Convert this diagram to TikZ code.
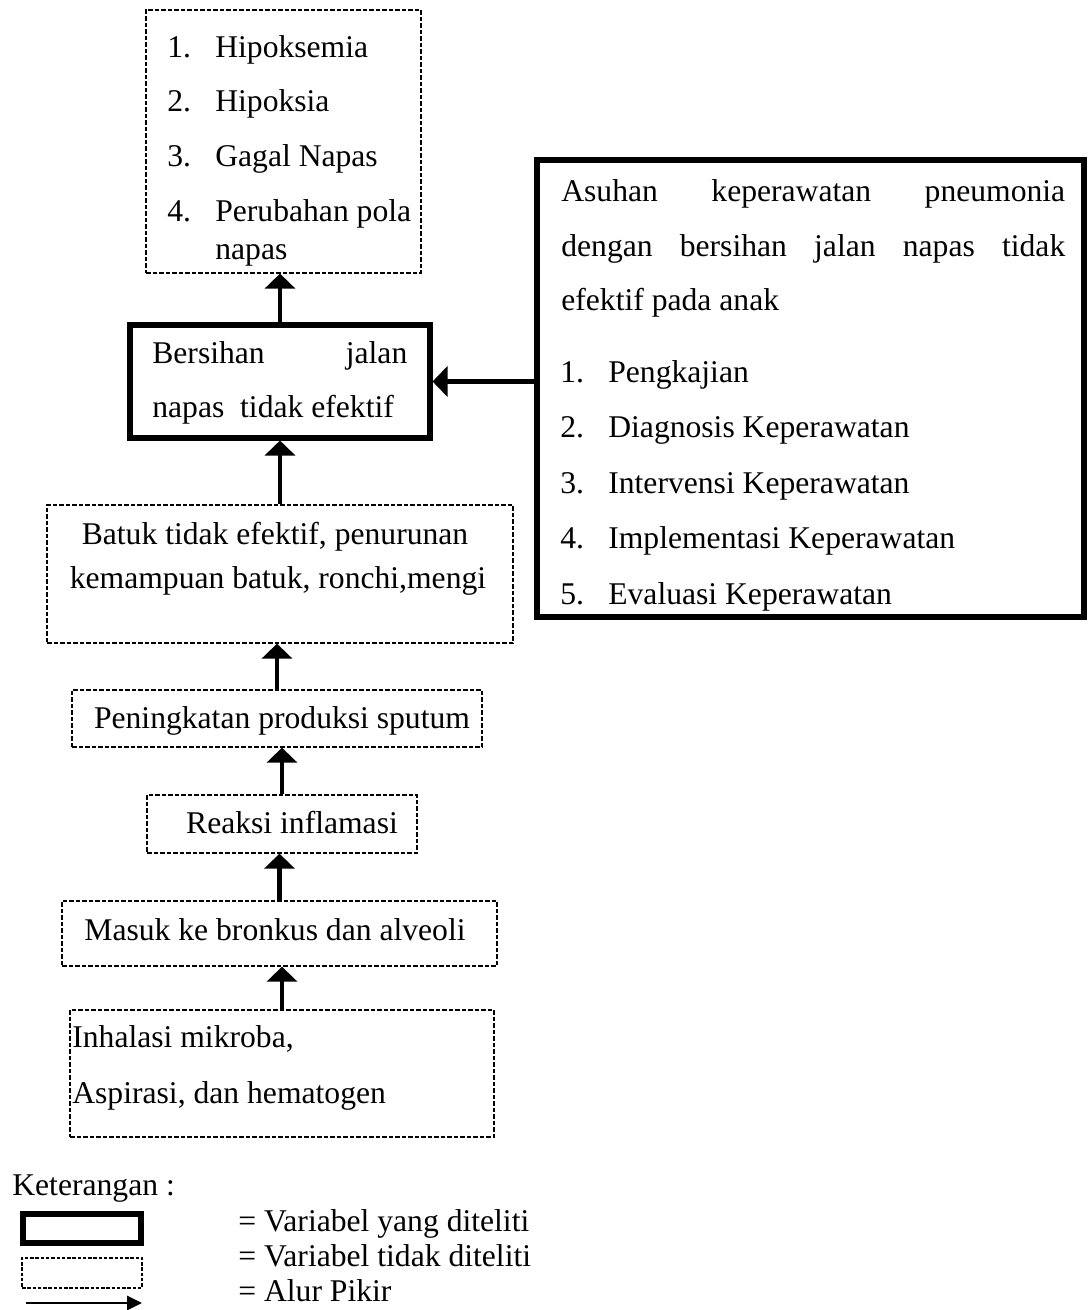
\documentclass[tikz,border=0pt]{standalone}
\usepackage{fontspec}
\setmainfont{Liberation Serif}
\usetikzlibrary{arrows.meta}
\tikzset{
  dbox/.style={draw,line width=.75pt,dash pattern=on 2.6pt off 1.1pt,inner sep=0pt},
  tbox/.style={draw,line width=2.9pt,inner sep=0pt},
  txt/.style={inner sep=0pt,anchor=base west},
  ctxt/.style={inner sep=0pt,anchor=base},
  flow/.style={line width=2.8pt,-{Triangle[width=.6cm,length=.3cm]}},
}
\begin{document}
\begin{tikzpicture}[x=.02cm,y=-.02cm,font=\fontsize{18}{22}\selectfont]
  \useasboundingbox (0,0) rectangle (1089,1310);
  \node[dbox,minimum width=5.5cm,minimum height=5.26cm] (hasil) at (283.5,141.5) {};
  \node[tbox,minimum width=6cm,minimum height=2.26cm] (bersihan) at (280,381.5) {};
  \node[tbox,line width=3.4pt,minimum width=10.94cm,minimum height=9.14cm] (asuhan) at (810.5,388.5) {};
  \node[dbox,minimum width=9.32cm,minimum height=2.76cm] (batuk) at (280,574) {};
  \node[dbox,minimum width=8.2cm,minimum height=1.14cm] (sputum) at (277,718.5) {};
  \node[dbox,minimum width=5.4cm,minimum height=1.16cm] (reaksi) at (282,824) {};
  \node[dbox,minimum width=8.7cm,minimum height=1.3cm] (masuk) at (279.5,933.5) {};
  \node[dbox,minimum width=8.48cm,minimum height=2.54cm] (inhalasi) at (282,1073.5) {};

  \foreach \n/\t/\y in {1/Hipoksemia/58, 2/Hipoksia/112, 3/Gagal Napas/167, 4/Perubahan pola/222}{
    \node[txt] (hasil\n) at (167,\y) {\makebox[.96cm][l]{\n.}\t};
  }
  \node[txt] (hasil5) at (215,260) {napas};

  \node[txt] (bersihan1) at (152,364) {\makebox[5.1cm]{Bersihan\hfill jalan}};
  \node[txt] (bersihan2) at (152,418) {napas\ \ tidak efektif};

  \node[txt] (asuhan1) at (561,202) {\makebox[10.08cm]{Asuhan\hfill keperawatan\hfill pneumonia}};
  \node[txt] (asuhan2) at (561,257) {\makebox[10.08cm]{dengan\hfill bersihan\hfill jalan\hfill napas\hfill tidak}};
  \node[txt] (asuhan3) at (561,311) {efektif pada anak};
  \foreach \n/\t/\y in {1/Pengkajian/383, 2/Diagnosis Keperawatan/438, 3/Intervensi Keperawatan/493,
                        4/Implementasi Keperawatan/548, 5/Evaluasi Keperawatan/604}{
    \node[txt] (proses\n) at (560,\y) {\makebox[.96cm][l]{\n.}\t};
  }

  \node[ctxt] (batuk1) at (275,544) {Batuk tidak efektif, penurunan};
  \node[ctxt] (batuk2) at (278,588) {kemampuan batuk, ronchi,mengi};
  \node[ctxt] (sputum1) at (282,728) {Peningkatan produksi sputum};
  \node[ctxt] (reaksi1) at (292,833) {Reaksi inflamasi};
  \node[ctxt] (masuk1) at (275,940) {Masuk ke bronkus dan alveoli};
  \node[txt] (inhalasi1) at (72,1047) {Inhalasi mikroba,};
  \node[txt] (inhalasi2) at (72,1103) {Aspirasi, dan hematogen};

  \draw[flow] (bersihan.north) -- (bersihan.north |- hasil.south);
  \draw[flow] (batuk.north) -- (batuk.north |- bersihan.south);
  \draw[flow] (sputum.north) -- (sputum.north |- batuk.south);
  \draw[flow] (reaksi.north) -- (reaksi.north |- sputum.south);
  \draw[flow] (masuk.north) -- (masuk.north |- reaksi.south);
  \draw[flow] (inhalasi.north) -- (inhalasi.north |- masuk.south);
  \draw[flow] (asuhan.west |- bersihan.east) -- (bersihan.east);

  \node[txt] (ket) at (12,1195) {Keterangan :};
  \node[tbox,line width=3.4pt,minimum width=2.36cm,minimum height=.58cm] (legtebal) at (82,1228.5) {};
  \node[dbox,line width=.6pt,dash pattern=on 2pt off 1pt,minimum width=2.4cm,minimum height=.6cm] (legputus) at (82,1273) {};
  \coordinate (legA) at (26,1303);
  \coordinate (legB) at (142,1303);
  \draw[line width=1.6pt,-{Triangle[width=.28cm,length=.3cm]}] (legA) -- (legB);
  \node[txt] (ket1) at (238,1231) {= Variabel yang diteliti};
  \node[txt] (ket2) at (238,1266) {= Variabel tidak diteliti};
  \node[txt] (ket3) at (238,1301) {= Alur Pikir};
\end{tikzpicture}
\end{document}
